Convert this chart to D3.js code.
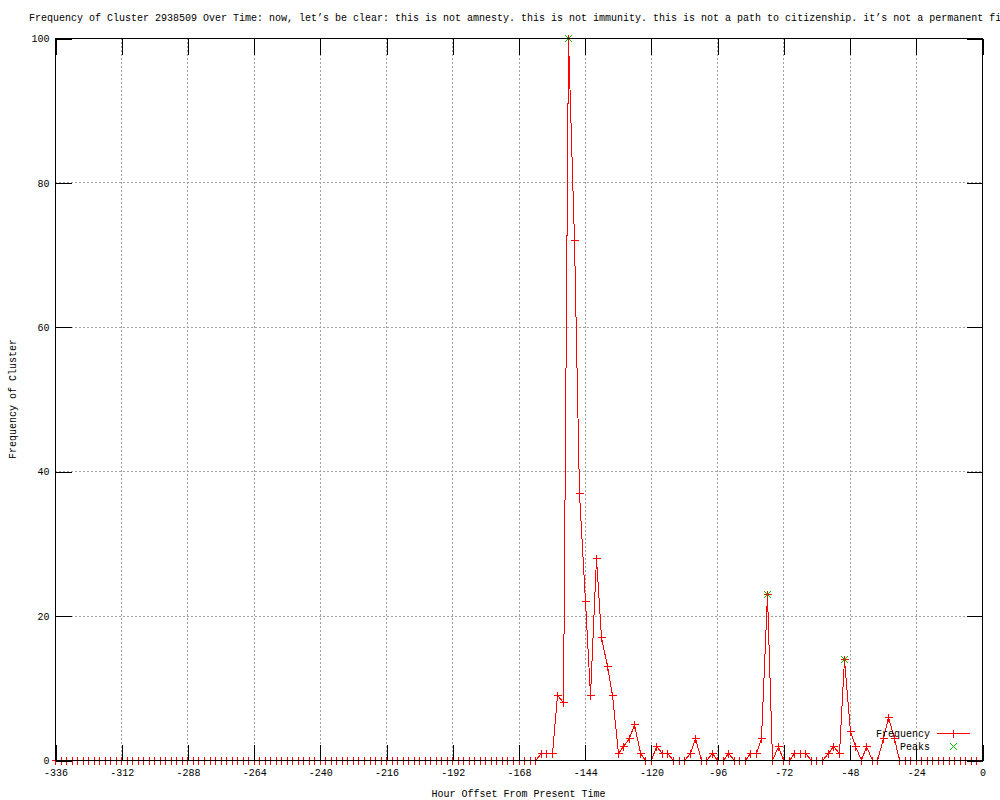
<!doctype html>
<html lang="en">
<head>
<meta charset="utf-8">
<title>Frequency of Cluster 2938509 Over Time</title>
<script src="https://cdn.jsdelivr.net/npm/d3@7"></script>
<style>
  body { margin: 0; background: #fff; }
  svg text { font-family: "Liberation Mono", "DejaVu Sans Mono", monospace; font-size: 10px; fill: #000; }
</style>
</head>
<body>
<div id="chart"></div>
<script>

var width = 1000;
var height = 800;

// hour offsets run -336 .. -2 in 2 hour bins
var hours = d3.range(-336, 0, 2);

// frequency per bin (168 values)
var freq = [
  0,0,0,0,0,0,0,0,0,0, 0,0,0,0,0,0,0,0,0,0,
  0,0,0,0,0,0,0,0,0,0, 0,0,0,0,0,0,0,0,0,0,
  0,0,0,0,0,0,0,0,0,0, 0,0,0,0,0,0,0,0,0,0,
  0,0,0,0,0,0,0,0,0,0, 0,0,0,0,0,0,0,0,0,0,
  0,0,0,0,0,0,0,0,
  1,1,1,9,8,100,72,37,22,9,
  28,17,13,9,1,2,3,5,1,0,
  0,2,1,1,0,0,0,1,3,0,
  0,1,0,0,1,0,0,0,1,1,
  3,23,0,2,0,0,1,1,1,0,
  0,0,1,2,1,14,4,2,0,2,
  0,0,3,6,3,
  0,0,0,0,0,0,0,0,0,0,0,0,0,0,0
];

var peakHours = [-150, -78, -50];
var peakValues = [100, 23, 14];

var xTicks = d3.range(-336, 1, 24);
var yTicks = [0, 20, 40, 60, 80, 100];

var titleText = "Frequency of Cluster 2938509 Over Time: now, let\u2019s be clear: this is not amnesty. this is not immunity. this is not a path to citizenship. it\u2019s not a permanent fi";

// plot box (note: "top" is taken by window.top, so use pTop etc.)
var pLeft = 55, pRight = 982, pTop = 38, pBottom = 760;
var ticLen = 16;

var x = d3.scaleLinear().domain([-336, 0]).range([pLeft, pRight]);
var y = d3.scaleLinear().domain([0, 100]).range([pBottom, pTop]);

// snap to pixel centres so 1px lines stay sharp
function px(v) { return Math.round(v) + 0.5; }

var svg = d3.select("#chart").append("svg")
    .attr("width", width)
    .attr("height", height);

var data = hours.map(function(h, i) { return {h: h, v: freq[i]}; });
var peaks = peakHours.map(function(h, i) { return {h: h, v: peakValues[i]}; });

// grid, dotted grey
var grid = svg.append("g").attr("shape-rendering", "crispEdges")
    .attr("stroke", "#a0a0a0").attr("stroke-dasharray", "2,2");
grid.selectAll("line.gx")
    .data(xTicks.filter(function(t) { return t > -336 && t < 0; }))
    .enter().append("line")
    .attr("x1", function(d) { return px(x(d)); })
    .attr("x2", function(d) { return px(x(d)); })
    .attr("y1", pTop).attr("y2", pBottom);
grid.selectAll("line.gy")
    .data(yTicks.filter(function(t) { return t > 0 && t < 100; }))
    .enter().append("line")
    .attr("x1", pLeft).attr("x2", pRight)
    .attr("y1", function(d) { return px(y(d)); })
    .attr("y2", function(d) { return px(y(d)); });

// the frequency line
var freqLine = d3.line()
    .x(function(d) { return px(x(d.h)); })
    .y(function(d) { return px(y(d.v)); });

svg.append("path")
    .datum(data)
    .attr("d", freqLine)
    .style("fill", "none")
    .style("stroke", "#ff0000")
    .style("stroke-width", 1)
    .attr("shape-rendering", "crispEdges");

// gnuplot style point symbols
function plus(g, cx, cy, color) {
  g.append("path")
    .attr("d", "M" + (cx - 4) + "," + cy + "H" + (cx + 4) + "M" + cx + "," + (cy - 4) + "V" + (cy + 4))
    .style("stroke", color).style("fill", "none").attr("shape-rendering", "crispEdges");
}
function cross(g, cx, cy, color) {
  g.append("path")
    .attr("d", "M" + (cx - 3.5) + "," + (cy - 3.5) + "L" + (cx + 3.5) + "," + (cy + 3.5) +
               "M" + (cx - 3.5) + "," + (cy + 3.5) + "L" + (cx + 3.5) + "," + (cy - 3.5))
    .style("stroke", color).style("fill", "none");
}

var marks = svg.append("g");
data.forEach(function(d) { plus(marks, px(x(d.h)), px(y(d.v)), "#ff0000"); });
peaks.forEach(function(d) { cross(marks, px(x(d.h)), px(y(d.v)), "#00c000"); });

// border with mirrored ticks, drawn over the data like gnuplot does
var axes = svg.append("g").attr("shape-rendering", "crispEdges");

var xAxis = d3.axisBottom(x).tickValues(xTicks).tickSizeInner(-ticLen).tickSizeOuter(0)
    .tickPadding(8).tickFormat(function(d) { return String(d); });
var gxb = axes.append("g").attr("transform", "translate(0.5," + (pBottom + 0.5) + ")").call(xAxis);

var xAxisTop = d3.axisTop(x).tickValues(xTicks).tickSizeInner(-ticLen).tickSizeOuter(0);
var gxt = axes.append("g").attr("transform", "translate(0.5," + (pTop + 0.5) + ")").call(xAxisTop);

var yAxis = d3.axisLeft(y).tickValues(yTicks).tickSizeInner(-ticLen).tickSizeOuter(0)
    .tickPadding(6).tickFormat(function(d) { return String(d); });
var gyl = axes.append("g").attr("transform", "translate(" + (pLeft + 0.5) + ",0.5)").call(yAxis);

var yAxisRight = d3.axisRight(y).tickValues(yTicks).tickSizeInner(-ticLen).tickSizeOuter(0);
var gyr = axes.append("g").attr("transform", "translate(" + (pRight + 0.5) + ",0.5)").call(yAxisRight);

// mirrored sides carry ticks only
gxt.selectAll(".tick text").remove();
gyr.selectAll(".tick text").remove();

axes.selectAll(".domain").remove();
axes.selectAll(".tick line").attr("stroke", "#000");
axes.selectAll(".tick text")
    .attr("font-family", null).attr("font-size", null)
    .style("fill", "#000");

axes.append("rect")
    .attr("x", pLeft + 0.5).attr("y", pTop + 0.5)
    .attr("width", pRight - pLeft).attr("height", pBottom - pTop)
    .style("fill", "none").style("stroke", "#000");

// legend
var legendG = svg.append("g");
legendG.append("text").attr("x", 930).attr("y", 737).attr("text-anchor", "end").text("Frequency");
legendG.append("rect").attr("x", 937).attr("y", 733).attr("width", 33).attr("height", 1)
    .style("fill", "#ff0000").attr("shape-rendering", "crispEdges");
plus(legendG, 953.5, 733.5, "#ff0000");
legendG.append("text").attr("x", 930).attr("y", 750).attr("text-anchor", "end").text("Peaks");
cross(legendG, 953.5, 746.5, "#00c000");

// titles
svg.append("text").attr("x", 29).attr("y", 21).text(titleText);

svg.append("text")
    .attr("x", (pLeft + pRight) / 2).attr("y", 797)
    .attr("text-anchor", "middle")
    .text("Hour Offset From Present Time");

svg.append("text")
    .attr("transform", "translate(16," + ((pTop + pBottom) / 2) + ") rotate(-90)")
    .attr("text-anchor", "middle")
    .text("Frequency of Cluster");

</script>
</body>
</html>
